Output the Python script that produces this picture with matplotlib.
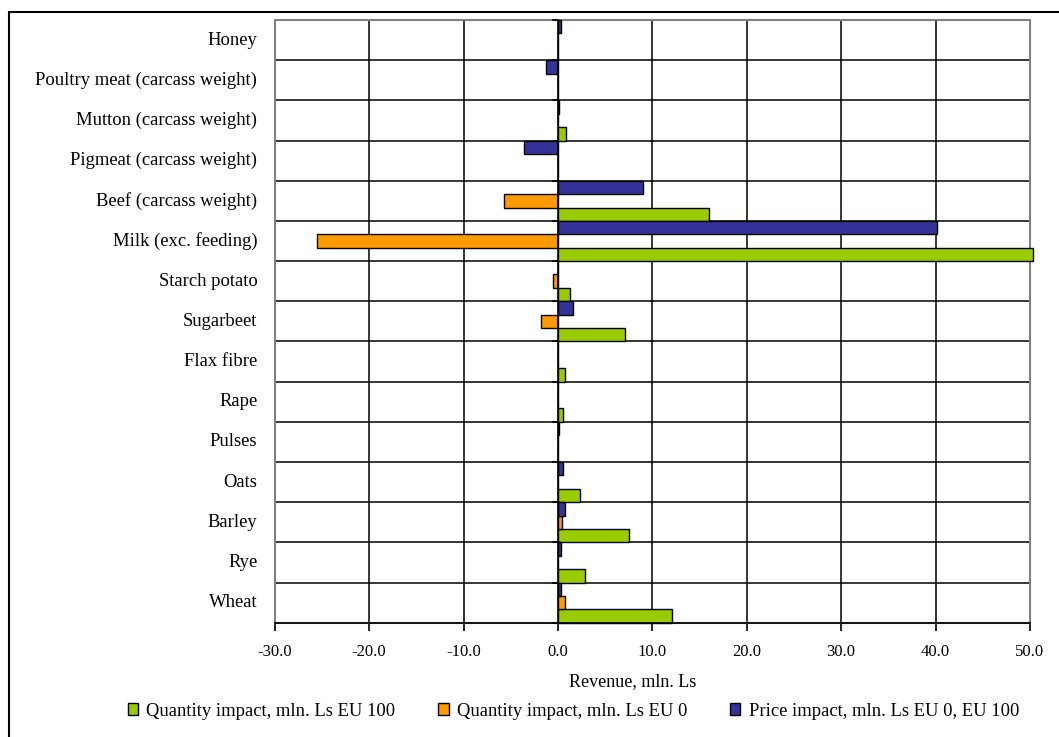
import matplotlib
matplotlib.use("Agg")
import matplotlib.pyplot as plt
from matplotlib.patches import Rectangle
import numpy as np

plt.rcParams["font.family"] = ["Liberation Serif", "DejaVu Serif"]

categories = [
    "Wheat", "Rye", "Barley", "Oats", "Pulses", "Rape", "Flax fibre",
    "Sugarbeet", "Starch potato", "Milk (exc. feeding)",
    "Beef (carcass weight)", "Pigmeat (carcass weight)",
    "Mutton (carcass weight)", "Poultry meat (carcass weight)", "Honey",
]
qty_eu100 = [12.1, 2.9, 7.5, 2.3, 0.0, 0.5, 0.7, 7.1, 1.3, 50.3, 16.0, 0.0, 0.9, 0.0, 0.0]
qty_eu0 = [0.8, 0.0, 0.4, 0.0, 0.0, 0.0, 0.0, -1.8, -0.5, -25.5, -5.7, 0.0, 0.0, 0.0, 0.0]
price_impact = [0.3, 0.3, 0.8, 0.5, 0.1, 0.0, 0.0, 1.6, 0.0, 40.2, 9.0, -3.6, 0.1, -1.3, 0.3]

series_names = [
    "Quantity impact, mln. Ls EU 100",
    "Quantity impact, mln. Ls EU 0",
    "Price impact, mln. Ls EU 0, EU 100",
]
colors = ["#99CC00", "#FF9900", "#333399"]
x_ticks = [-30, -20, -10, 0, 10, 20, 30, 40, 50]

W, H = 1059, 737
fig = plt.figure(figsize=(W / 100, H / 100), dpi=100)
ax = fig.add_axes([274.7 / W, 1 - 622.7 / H, (1030 - 274.7) / W, (622.7 - 20) / H])

y = np.arange(len(categories))
h = 1 / 3
for vals, off, col, name in zip([qty_eu100, qty_eu0, price_impact], [-h, 0, h], colors, series_names):
    ax.barh(y + off, vals, height=h, color=col, edgecolor="black", linewidth=1.0,
            label=name, clip_on=False, zorder=3)

ax.set_xlim(-30, 50)
ax.set_ylim(-0.5, len(categories) - 0.5)

# grid: vertical at x ticks, horizontal at category boundaries
for xv in x_ticks[1:-1]:
    if xv != 0:
        ax.axvline(xv, color="black", lw=1.1, zorder=1)
for b in np.arange(0.5, len(categories) - 0.5, 1.0):
    ax.axhline(b, color="black", lw=1.1, zorder=1)

# frame
for s in ["top", "right", "left"]:
    ax.spines[s].set_visible(False)
ax.add_patch(Rectangle((0, 0), 1, 1, transform=ax.transAxes, fill=False,
                       edgecolor="#808080", lw=1.5, zorder=2, clip_on=False))
ax.spines["bottom"].set_color("black")
ax.spines["bottom"].set_linewidth(1.2)
ax.spines["bottom"].set_zorder(4)

# category axis at x = 0 with ticks at boundaries
ax.axvline(0, color="black", lw=1.2, zorder=4)
trans_y = ax.get_yaxis_transform()
for b in np.arange(-0.5, len(categories), 1.0):
    ax.plot([-0.55, 0], [b, b], color="black", lw=1.2, zorder=4, clip_on=False)

ax.set_yticks([])
for yi, lab in zip(y, categories):
    ax.text(-0.023, yi, lab, transform=trans_y, ha="right", va="center", fontsize=13.4)

ax.set_xticks(x_ticks)
ax.set_xticklabels([f"{v:.1f}" for v in x_ticks], fontsize=12)
ax.tick_params(axis="x", direction="out", length=6, width=1.2, pad=9, color="black")

fig.text(633 / W, 1 - 682 / H, "Revenue, mln. Ls", ha="center", va="center", fontsize=13)

handles = [Rectangle((0, 0), 1, 1, facecolor=c, edgecolor="black", lw=1.0) for c in colors]
fig.legend(handles, series_names, loc="center", bbox_to_anchor=(573.5 / W, 1 - 711 / H),
           ncol=3, frameon=False, fontsize=13.4, handlelength=0.55, handleheight=0.55,
           handletextpad=0.45, columnspacing=2.3, borderpad=0, borderaxespad=0)

# outer chart border
fig.add_artist(Rectangle((9 / W, -0.2), 1.2, 1.2 - 12 / H, transform=fig.transFigure,
                         fill=False, edgecolor="black", lw=1.5))

fig.savefig("out.png", dpi=100)
